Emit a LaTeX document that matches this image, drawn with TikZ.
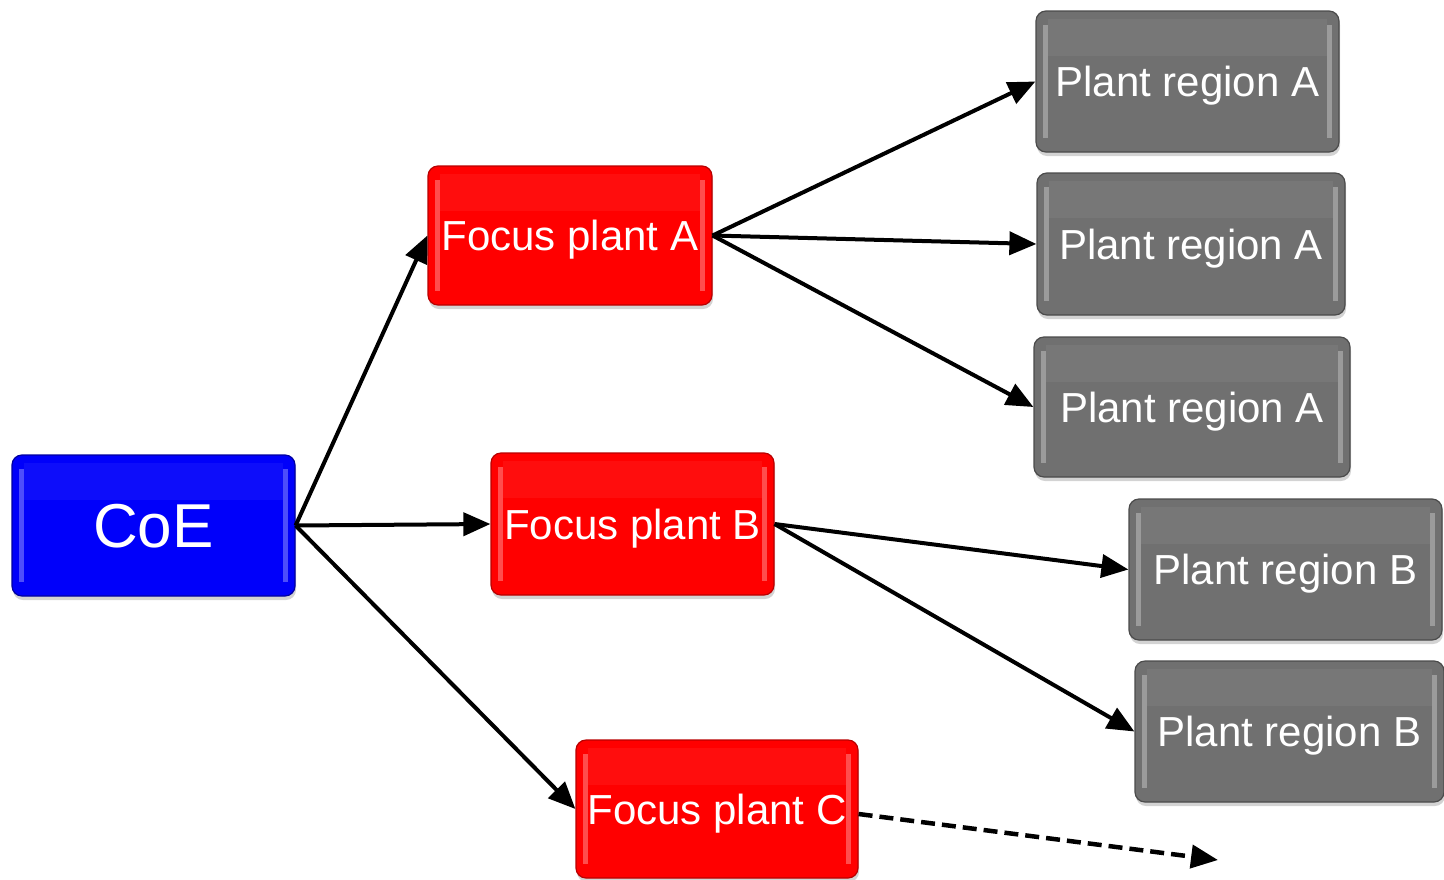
\documentclass[tikz,border=0pt]{standalone}
\usepackage{fontspec}
\setmainfont{Liberation Sans}
\usetikzlibrary{arrows.meta,shadows}
\definecolor{boxblue}{RGB}{0,0,250}
\definecolor{boxblueline}{RGB}{0,0,160}
\definecolor{boxred}{RGB}{255,0,0}
\definecolor{boxredline}{RGB}{185,0,0}
\definecolor{boxgray}{RGB}{112,112,112}
\definecolor{boxgrayline}{RGB}{75,75,75}
\begin{document}
\begin{tikzpicture}[x=1pt,y=-1pt,
  box/.style={rectangle, rounded corners=10pt, text=white, inner sep=0pt, text depth=0pt,
    line width=1.2pt, font=\fontsize{42}{48}\selectfont,
    drop shadow={shadow xshift=1pt, shadow yshift=-4pt, opacity=0.35},
    path picture={
      \fill[white, opacity=0.3, sharp corners] ([shift={(7pt,-14pt)}]path picture bounding box.north west)
        rectangle ([shift={(12pt,14pt)}]path picture bounding box.south west);
      \fill[white, opacity=0.3, sharp corners] ([shift={(-7pt,-14pt)}]path picture bounding box.north east)
        rectangle ([shift={(-12pt,14pt)}]path picture bounding box.south east);
      \fill[white, opacity=0.05, sharp corners] ([shift={(12pt,-8pt)}]path picture bounding box.north west)
        rectangle ([shift={(-12pt,-45pt)}]path picture bounding box.north east);
    }},
  bluebox/.style={box, fill=boxblue, draw=boxblueline, font=\fontsize{62}{70}\selectfont},
  redbox/.style={box, fill=boxred, draw=boxredline},
  graybox/.style={box, fill=boxgray, draw=boxgrayline},
  conn/.style={line width=4pt, -{Triangle[length=27pt,width=23pt]}},
  dashconn/.style={line width=4.5pt, dash pattern=on 14pt off 7pt, -{Triangle[length=27pt,width=23pt]}}
]
\useasboundingbox (0,0) rectangle (1444,879);

\node[bluebox, minimum width=283pt, minimum height=141pt] (coe) at (153.5,525.5) {CoE};

\node[redbox, minimum width=284pt, minimum height=139pt] (fa) at (570,235.5) {Focus plant A};
\node[redbox, minimum width=283pt, minimum height=142pt] (fb) at (632.5,524) {Focus plant B};
\node[redbox, minimum width=282pt, minimum height=138pt] (fc) at (717,809) {Focus plant C};

\node[graybox, minimum width=303pt, minimum height=141pt] (ra1) at (1187.5,81.5) {Plant region A};
\node[graybox, minimum width=308pt, minimum height=142pt] (ra2) at (1191,244) {Plant region A};
\node[graybox, minimum width=316pt, minimum height=140pt] (ra3) at (1192,407) {Plant region A};
\node[graybox, minimum width=313pt, minimum height=141pt] (rb1) at (1285.5,569.5) {Plant region B};
\node[graybox, minimum width=309pt, minimum height=141pt] (rb2) at (1289.5,731.5) {Plant region B};

\coordinate (cend) at (1218,860);

\draw[conn] (coe.east) -- (fa.west);
\draw[conn] (coe.east) -- (fb.west);
\draw[conn] (coe.east) -- (fc.west);

\draw[conn] (fa.east) -- (ra1.west);
\draw[conn] (fa.east) -- (ra2.west);
\draw[conn] (fa.east) -- (ra3.west);

\draw[conn] (fb.east) -- (rb1.west);
\draw[conn] (fb.east) -- (rb2.west);

\draw[dashconn] ([yshift=-5pt]fc.east) -- (cend);
\end{tikzpicture}
\end{document}
